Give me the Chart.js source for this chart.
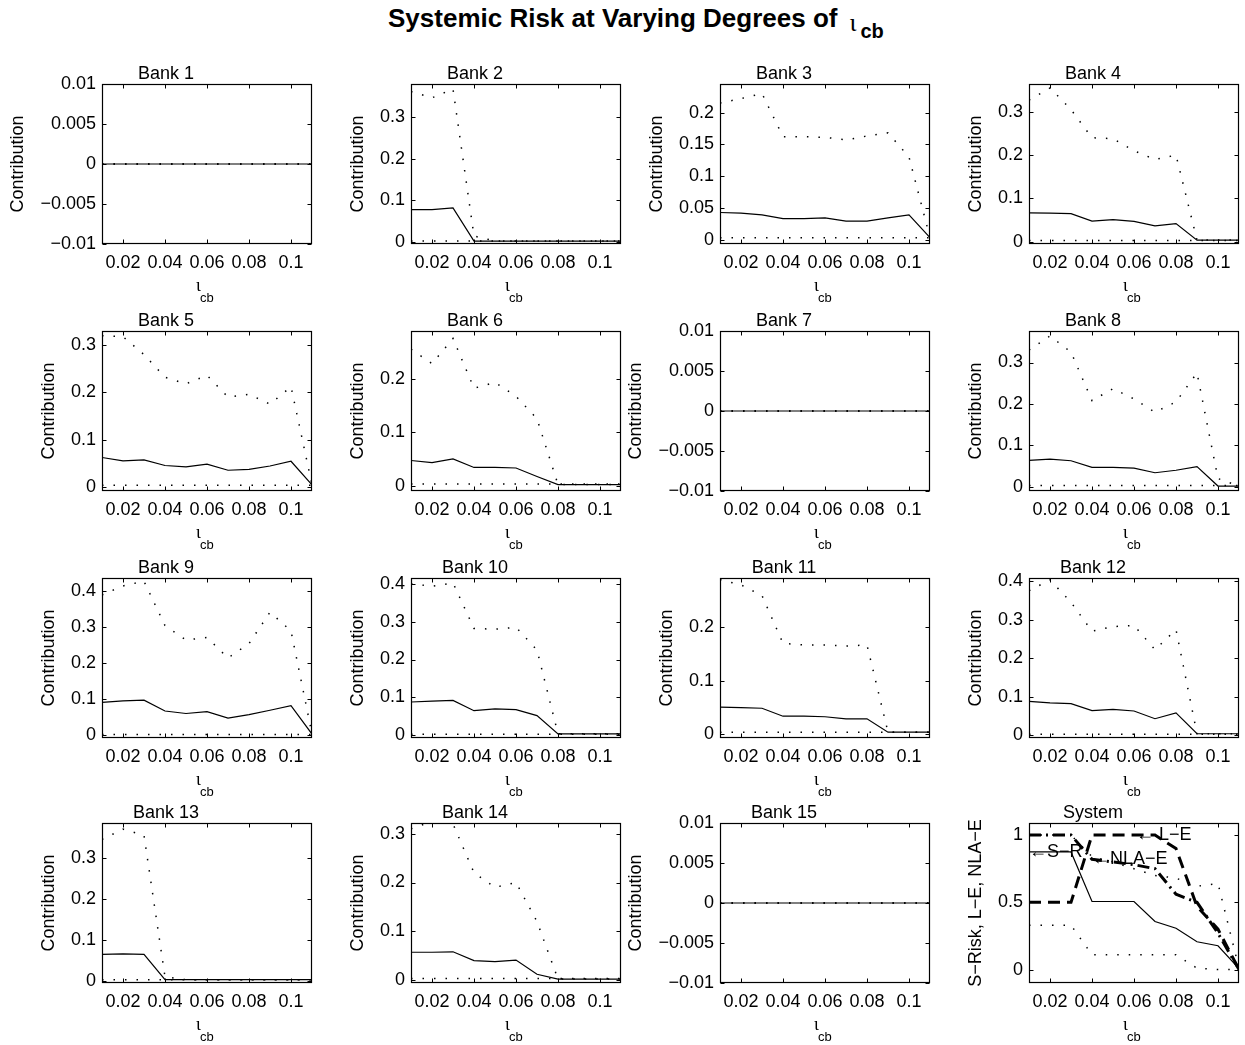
<!DOCTYPE html>
<html lang="en">
<head>
<meta charset="UTF-8">
<title>Systemic Risk at Varying Degrees of iota cb</title>
<script src="https://cdn.jsdelivr.net/npm/chart.js"></script>
<style>
    body { margin: 0; background: #fff; width: 1245px; height: 1045px; position: relative; overflow: hidden;
           font-family: "Liberation Sans", Arial, sans-serif; color: #000; }
    #titulo { position: absolute; left: 388px; top: 3px; font-size: 26px; font-weight: bold;
              white-space: nowrap; line-height: 30px; }
    #titulo .iota { position: relative; top: 4px; margin-left: 12px; font-family: "Liberation Serif", serif; font-weight: normal; }
    #titulo sub { font-size: 20px; position: relative; top: 11px; margin-left: 4px; vertical-align: baseline; }
    canvas { position: absolute; }
</style>
</head>
<body>
<div id="titulo">Systemic Risk at Varying Degrees of<span class="iota">ι</span><sub>cb</sub></div>
<script>
// iota_cb values on the x axis
const xVals = [0.01, 0.02, 0.03, 0.04, 0.05, 0.06, 0.07, 0.08, 0.09, 0.10, 0.11];
const xTicks = [0.02, 0.04, 0.06, 0.08, 0.1];

// y tick sets
const ticksZero = [-0.01, -0.005, 0, 0.005, 0.01];
const ticks03 = [0, 0.1, 0.2, 0.3];
const ticks02 = [0, 0.1, 0.2];
const ticks04 = [0, 0.1, 0.2, 0.3, 0.4];
const ticks005 = [0, 0.05, 0.1, 0.15, 0.2];
const ticksSys = [0, 0.5, 1];

// contribution (solid), upper and lower bounds (dotted)
const zeros = [0, 0, 0, 0, 0, 0, 0, 0, 0, 0, 0];
const bank2 = [0.078, 0.078, 0.082, 0.003, 0.003, 0.003, 0.003, 0.003, 0.003, 0.003, 0.003];
const bank2Up = [0.36, 0.345, 0.366, 0.015, 0.003, 0.003, 0.003, 0.003, 0.003, 0.003, 0.003];
const bank3 = [0.0426, 0.0416, 0.039, 0.033, 0.033, 0.034, 0.029, 0.029, 0.034, 0.039, 0.003];
const bank3Up = [0.215, 0.222, 0.23, 0.162, 0.162, 0.161, 0.157, 0.163, 0.168, 0.13, 0.003];
const bank4 = [0.067, 0.066, 0.065, 0.048, 0.051, 0.047, 0.037, 0.042, 0.004, 0.004, 0.004];
const bank4Up = [0.327, 0.355, 0.305, 0.24, 0.238, 0.21, 0.19, 0.2, 0.004, 0.004, 0.004];
const bank5 = [0.062, 0.055, 0.057, 0.045, 0.042, 0.048, 0.035, 0.037, 0.044, 0.054, 0.004];
const bank5Up = [0.32, 0.318, 0.28, 0.232, 0.218, 0.236, 0.19, 0.196, 0.175, 0.212, 0.004];
const bank6 = [0.047, 0.043, 0.05, 0.034, 0.034, 0.033, 0.017, 0.002, 0.002, 0.002, 0.002];
const bank6Up = [0.255, 0.228, 0.275, 0.182, 0.193, 0.167, 0.125, 0.002, 0.002, 0.002, 0.002];
const bank8 = [0.064, 0.067, 0.063, 0.047, 0.047, 0.045, 0.034, 0.04, 0.049, 0.002, 0.002];
const bank8Up = [0.33, 0.364, 0.325, 0.208, 0.237, 0.212, 0.18, 0.205, 0.275, 0.02, 0.002];
const bank9 = [0.092, 0.096, 0.098, 0.068, 0.061, 0.066, 0.048, 0.058, 0.07, 0.083, 0.004];
const bank9Up = [0.39, 0.415, 0.428, 0.305, 0.265, 0.272, 0.215, 0.255, 0.342, 0.29, 0.004];
const bank10 = [0.088, 0.09, 0.092, 0.065, 0.07, 0.068, 0.052, 0.004, 0.004, 0.004, 0.004];
const bank10Up = [0.4, 0.393, 0.402, 0.282, 0.28, 0.285, 0.225, 0.004, 0.004, 0.004, 0.004];
const bank11 = [0.05, 0.049, 0.048, 0.033, 0.033, 0.032, 0.028, 0.028, 0.003, 0.003, 0.003];
const bank11Up = [0.29, 0.28, 0.26, 0.17, 0.167, 0.167, 0.165, 0.167, 0.003, 0.003, 0.003];
const bank12 = [0.088, 0.084, 0.082, 0.064, 0.067, 0.063, 0.043, 0.058, 0.004, 0.004, 0.004];
const bank12Up = [0.375, 0.403, 0.345, 0.27, 0.282, 0.285, 0.222, 0.274, 0.004, 0.004, 0.004];
const bank13 = [0.065, 0.066, 0.065, 0.003, 0.003, 0.003, 0.003, 0.003, 0.003, 0.003, 0.003];
const bank13Up = [0.345, 0.37, 0.355, 0.01, 0.003, 0.003, 0.003, 0.003, 0.003, 0.003, 0.003];
const bank14 = [0.057, 0.057, 0.058, 0.04, 0.038, 0.041, 0.012, 0.002, 0.002, 0.002, 0.002];
const bank14Up = [0.31, 0.325, 0.32, 0.22, 0.19, 0.2, 0.12, 0.002, 0.002, 0.002, 0.002];
const lowBand = [0.003, 0.003, 0.003, 0.003, 0.003, 0.003, 0.003, 0.003, 0.003, 0.003, 0.003];

// system panel
const sysRisk = [0.875, 0.875, 0.875, 0.506, 0.506, 0.506, 0.357, 0.307, 0.207, 0.177, 0.007];
const sysLE = [0.5, 0.5, 0.5, 1.0, 1.0, 1.0, 1.0, 0.9, 0.47, 0.3, 0.0];
const sysNLA = [1.0, 1.0, 1.0, 0.82, 0.8, 0.78, 0.75, 0.56, 0.5, 0.27, 0.0];
const sysUp = [1.0, 1.0, 1.0, 0.84, 0.8, 0.75, 0.7, 0.68, 0.62, 0.64, 0.01];
const sysLo = [0.33, 0.33, 0.33, 0.11, 0.11, 0.11, 0.11, 0.11, 0.01, 0.0, 0.0];

const panels = [
    { title: 'Bank 1', mid: zeros, up: zeros, lo: zeros, yMin: -0.01, yMax: 0.01, yTicks: ticksZero },
    { title: 'Bank 2', mid: bank2, up: bank2Up, lo: lowBand, yMin: -0.004, yMax: 0.378, yTicks: ticks03 },
    { title: 'Bank 3', mid: bank3, up: bank3Up, lo: lowBand, yMin: -0.007, yMax: 0.245, yTicks: ticks005 },
    { title: 'Bank 4', mid: bank4, up: bank4Up, lo: lowBand, yMin: -0.005, yMax: 0.364, yTicks: ticks03 },
    { title: 'Bank 5', mid: bank5, up: bank5Up, lo: lowBand, yMin: -0.009, yMax: 0.33, yTicks: ticks03 },
    { title: 'Bank 6', mid: bank6, up: bank6Up, lo: lowBand, yMin: -0.01, yMax: 0.289, yTicks: ticks02 },
    { title: 'Bank 7', mid: zeros, up: zeros, lo: zeros, yMin: -0.01, yMax: 0.01, yTicks: ticksZero },
    { title: 'Bank 8', mid: bank8, up: bank8Up, lo: lowBand, yMin: -0.01, yMax: 0.376, yTicks: ticks03 },
    { title: 'Bank 9', mid: bank9, up: bank9Up, lo: lowBand, yMin: -0.007, yMax: 0.437, yTicks: ticks04 },
    { title: 'Bank 10', mid: bank10, up: bank10Up, lo: lowBand, yMin: -0.007, yMax: 0.415, yTicks: ticks04 },
    { title: 'Bank 11', mid: bank11, up: bank11Up, lo: lowBand, yMin: -0.008, yMax: 0.293, yTicks: ticks02 },
    { title: 'Bank 12', mid: bank12, up: bank12Up, lo: lowBand, yMin: -0.007, yMax: 0.408, yTicks: ticks04 },
    { title: 'Bank 13', mid: bank13, up: bank13Up, lo: lowBand, yMin: -0.005, yMax: 0.385, yTicks: ticks03 },
    { title: 'Bank 14', mid: bank14, up: bank14Up, lo: lowBand, yMin: -0.006, yMax: 0.322, yTicks: ticks03 },
    { title: 'Bank 15', mid: zeros, up: zeros, lo: zeros, yMin: -0.01, yMax: 0.01, yTicks: ticksZero },
    { title: 'System', system: true, yMin: -0.1, yMax: 1.09, yTicks: ticksSys }
];

const colLeft = [102, 411, 720, 1029];
const rowTop = [84, 331, 578, 823];
const areaW = 210, areaH = 160;
const padL = 92, padR = 12, padT = 24, padB = 60;
const fonte = '"Liberation Sans", Arial, sans-serif';

function pts(arr) {
    return arr.map((v, i) => ({ x: xVals[i], y: v }));
}
function fmt(v) {
    return String(Number(v.toFixed(4))).replace('-', '\u2212');
}

// draws box, inward ticks, title and labels like the original figure
const matlabAxes = {
    id: 'matlabAxes',
    afterDraw(chart, args, opts) {
        const ctx = chart.ctx, a = chart.chartArea;
        const xs = chart.scales.x, ys = chart.scales.y;
        const L = Math.round(a.left) + 0.5, R = Math.round(a.right) - 0.5;
        const T = Math.round(a.top) + 0.5, B = Math.round(a.bottom) - 0.5;
        ctx.save();
        ctx.strokeStyle = '#000';
        ctx.lineWidth = 1.2;
        ctx.strokeRect(L, T, R - L, B - T);
        ctx.lineWidth = 1;
        ctx.beginPath();
        xTicks.forEach(v => {
            const p = Math.round(xs.getPixelForValue(v)) + 0.5;
            ctx.moveTo(p, B); ctx.lineTo(p, B - 4);
            ctx.moveTo(p, T); ctx.lineTo(p, T + 4);
        });
        opts.yTicks.forEach(v => {
            const p = Math.round(ys.getPixelForValue(v)) + 0.5;
            ctx.moveTo(L, p); ctx.lineTo(L + 4, p);
            ctx.moveTo(R, p); ctx.lineTo(R - 4, p);
        });
        ctx.stroke();

        ctx.fillStyle = '#000';
        ctx.textBaseline = 'alphabetic';
        ctx.font = '18px ' + fonte;
        // panel title
        ctx.textAlign = 'center';
        ctx.fillText(opts.title, a.left + 64, a.top - 5);
        // y label sits left of the widest tick label
        let maxW = 0;
        opts.yTicks.forEach(v => { maxW = Math.max(maxW, ctx.measureText(fmt(v)).width); });
        ctx.save();
        ctx.translate(a.left - 6 - maxW - 17, (a.top + a.bottom) / 2);
        ctx.rotate(-Math.PI / 2);
        ctx.fillText(opts.ylabel, 0, 0);
        ctx.restore();
        // x label: iota with subscript cb
        const cx = (a.left + a.right) / 2;
        ctx.textAlign = 'left';
        ctx.font = '18px "Liberation Serif", serif';
        ctx.fillText('ι', cx - 11, a.bottom + 47);
        ctx.font = '13px ' + fonte;
        ctx.fillText('cb', cx - 7, a.bottom + 58);
        // text arrows
        (opts.notes || []).forEach(n => {
            ctx.font = '18px ' + fonte;
            ctx.textBaseline = 'middle';
            ctx.fillText(n.text, xs.getPixelForValue(n.x), ys.getPixelForValue(n.y));
        });
        ctx.restore();
    }
};

function dotted(arr) {
    return { data: pts(arr), borderColor: '#000', borderWidth: 1.5, borderDash: [1.5, 10], pointRadius: 0 };
}
function solid(arr) {
    return { data: pts(arr), borderColor: '#000', borderWidth: 1.2, pointRadius: 0 };
}

panels.forEach((p, i) => {
    const col = i % 4, row = Math.floor(i / 4);
    const cv = document.createElement('canvas');
    cv.width = padL + areaW + padR;
    cv.height = padT + areaH + padB;
    cv.style.left = (colLeft[col] - padL) + 'px';
    cv.style.top = (rowTop[row] - padT) + 'px';
    document.body.appendChild(cv);

    let datasets, ylabel = 'Contribution', notes = [];
    if (p.system) {
        ylabel = 'S\u2212Risk, L\u2212E, NLA\u2212E';
        datasets = [
            dotted(sysUp),
            dotted(sysLo),
            solid(sysRisk),
            { data: pts(sysLE), borderColor: '#000', borderWidth: 3, borderDash: [12, 7], pointRadius: 0 },
            { data: pts(sysNLA), borderColor: '#000', borderWidth: 3, borderDash: [12, 5, 2, 5], pointRadius: 0 }
        ];
        notes = [
            { x: 0.061, y: 1.0, text: '\u2190 L\u2212E' },
            { x: 0.04, y: 0.82, text: '\u2190NLA\u2212E' },
            { x: 0.01, y: 0.875, text: '\u2190S\u2212R' }
        ];
    } else {
        datasets = [dotted(p.up), dotted(p.lo), solid(p.mid)];
    }

    new Chart(cv.getContext('2d'), {
        type: 'line',
        data: { datasets: datasets },
        options: {
            responsive: false,
            animation: false,
            devicePixelRatio: 1,
            layout: { padding: { left: 0, right: padR, top: padT, bottom: 0 } },
            elements: { line: { tension: 0 } },
            plugins: {
                legend: { display: false },
                tooltip: { enabled: false },
                matlabAxes: { title: p.title, ylabel: ylabel, yTicks: p.yTicks, notes: notes }
            },
            scales: {
                x: {
                    type: 'linear', min: 0.01, max: 0.11,
                    afterBuildTicks: s => { s.ticks = xTicks.map(v => ({ value: v })); },
                    afterFit: s => { s.height = padB; },
                    grid: { display: false, drawTicks: false }, border: { display: false },
                    ticks: { autoSkip: false, maxRotation: 0, padding: 8, color: '#000',
                             font: { family: fonte, size: 18 }, callback: v => fmt(v) }
                },
                y: {
                    min: p.yMin, max: p.yMax,
                    afterBuildTicks: s => { s.ticks = p.yTicks.map(v => ({ value: v })); },
                    afterFit: s => { s.width = padL; },
                    grid: { display: false, drawTicks: false }, border: { display: false },
                    ticks: { autoSkip: false, padding: 6, color: '#000',
                             font: { family: fonte, size: 18 }, callback: v => fmt(v) }
                }
            }
        },
        plugins: [matlabAxes]
    });
});
</script>
</body>
</html>
